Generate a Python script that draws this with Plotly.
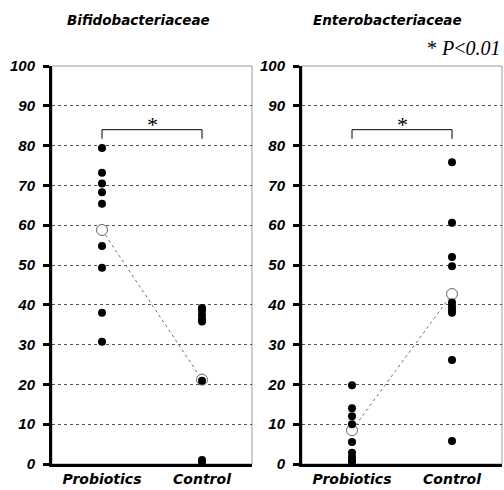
import plotly.graph_objects as go

groups = ["Probiotics", "Control"]
titles = ["Bifidobacteriaceae", "Enterobacteriaceae"]
y_ticks = [0, 10, 20, 30, 40, 50, 60, 70, 80, 90, 100]

bifido_probiotics = [79.4, 73.2, 70.5, 68.3, 65.4, 54.8, 49.3, 38.0, 30.7]
bifido_control = [39.2, 38.6, 37.5, 36.5, 35.8, 20.9, 1.0, 0.5]
bifido_means = [58.8, 21.2]

entero_probiotics = [19.8, 14.0, 12.0, 10.0, 5.5, 2.8, 1.8, 1.0, 0.5]
entero_control = [75.8, 60.6, 52.0, 49.7, 40.6, 39.6, 38.7, 38.0, 26.1, 5.8]
entero_means = [8.5, 42.7]

panels = [
    (bifido_probiotics, bifido_control, bifido_means),
    (entero_probiotics, entero_control, entero_means),
]

FONT = "Liberation Sans, Arial, sans-serif"
WIDE = "DejaVu Sans, sans-serif"
SERIF = "Liberation Serif, Times New Roman, serif"
W, H = 504, 490
TOP, BOTTOM = 66, 464
PH = BOTTOM - TOP

fig = go.Figure()
domains = [[52 / W, 252 / W], [302 / W, 502 / W]]
title_centers = [138, 387]

for i, (pro, con, means) in enumerate(panels):
    xa = "x" if i == 0 else "x2"
    ya = "y" if i == 0 else "y2"
    fig.add_trace(go.Scatter(x=[0, 1], y=means, xaxis=xa, yaxis=ya, mode="lines",
                             line=dict(color="#777777", width=1, dash="dot"),
                             showlegend=False, hoverinfo="skip"))
    fig.add_trace(go.Scatter(x=[0, 1], y=means, xaxis=xa, yaxis=ya, mode="markers",
                             marker=dict(color="white", size=11,
                                         line=dict(color="#666666", width=1)),
                             cliponaxis=False, showlegend=False))
    fig.add_trace(go.Scatter(x=[0] * len(pro), y=pro, xaxis=xa, yaxis=ya, mode="markers",
                             marker=dict(color="black", size=8), cliponaxis=False,
                             showlegend=False))
    fig.add_trace(go.Scatter(x=[1] * len(con), y=con, xaxis=xa, yaxis=ya, mode="markers",
                             marker=dict(color="black", size=8), cliponaxis=False,
                             showlegend=False))

    axx = dict(domain=domains[i], range=[-0.5, 1.5], tickmode="array", tickvals=[0, 1],
               ticktext=groups, showgrid=False, zeroline=False, showline=True,
               linecolor="black", linewidth=3, ticks="", anchor=ya,
               tickfont=dict(family=WIDE, size=14, color="black", weight="bold", style="italic"))
    axy = dict(domain=[0, 1], range=[0, 100], tickmode="array", tickvals=y_ticks,
               showgrid=True, gridcolor="#555555", gridwidth=1, griddash="dot",
               zeroline=False, showline=True, linecolor="black", linewidth=3,
               ticks="outside", ticklen=6, tickwidth=3, tickcolor="black", anchor=xa,
               ticklabelstandoff=5,
               tickfont=dict(family=FONT, size=15, color="black", weight="bold", style="italic"))
    if i == 0:
        fig.update_layout(xaxis=axx, yaxis=axy)
    else:
        fig.update_layout(xaxis2=axx, yaxis2=axy)

    fig.add_shape(type="rect", xref=f"{xa} domain", yref=f"{ya} domain", x0=0, x1=1, y0=0, y1=1,
                  line=dict(color="#999999", width=1), layer="below")
    fig.add_shape(type="path", xref=xa, yref=ya,
                  path="M 0,81.7 L 0,84 L 1,84 L 1,81.7",
                  line=dict(color="black", width=1))
    fig.add_annotation(x=0.5, y=84, xref=xa, yref=ya, text="*", showarrow=False,
                       yanchor="bottom", yshift=-9,
                       font=dict(family=SERIF, size=22, color="black"))
    fig.add_annotation(x=title_centers[i] / W, y=(BOTTOM - 20) / PH, xref="paper", yref="paper",
                       text=titles[i], showarrow=False, xanchor="center", yanchor="middle",
                       font=dict(family=WIDE, size=13.5, color="black", weight="bold", style="italic"))

fig.add_annotation(x=503 / W, y=(BOTTOM - 48) / PH, xref="paper", yref="paper",
                   text="* <i>P</i>&lt;<i>0.01</i>",
                   showarrow=False, xanchor="right", yanchor="middle",
                   font=dict(family=SERIF, size=20, color="black"))

fig.update_layout(width=W, height=H, margin=dict(l=0, r=0, t=TOP, b=H - BOTTOM),
                  plot_bgcolor="white", paper_bgcolor="white")
fig.write_html("out.html", config={"displayModeBar": False},
               post_script="document.body.style.margin='0px';")
